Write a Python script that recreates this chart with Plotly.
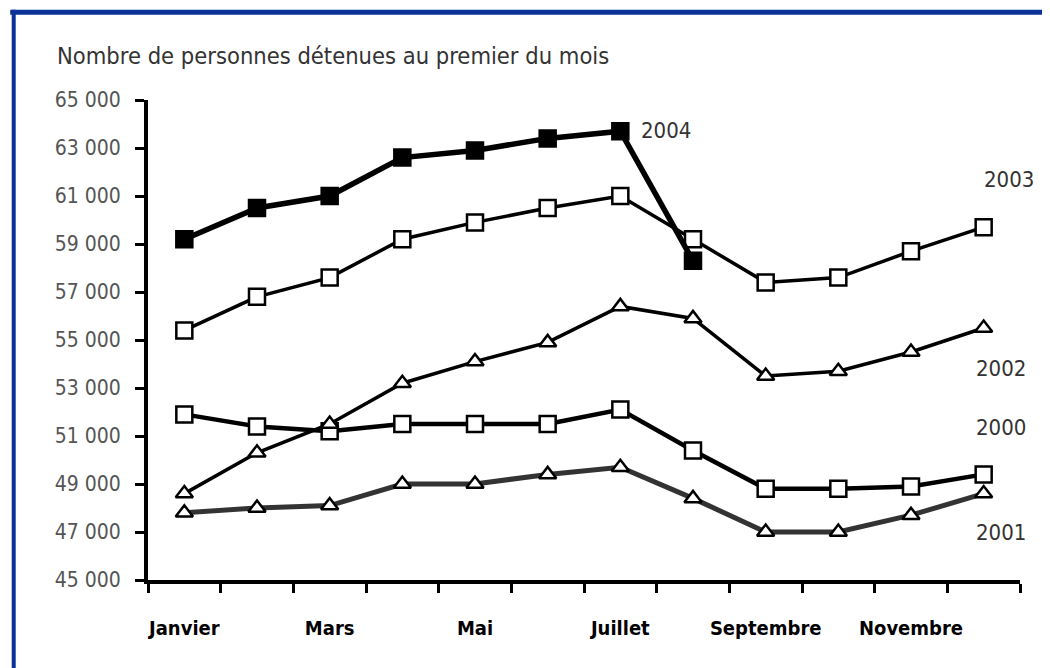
import plotly.graph_objects as go

months = ["Janvier", "Février", "Mars", "Avril", "Mai", "Juin", "Juillet",
          "Août", "Septembre", "Octobre", "Novembre", "Décembre"]
month_labels = ["Janvier", "", "Mars", "", "Mai", "", "Juillet", "",
                "Septembre", "", "Novembre", ""]

y2000 = [51900, 51400, 51200, 51500, 51500, 51500, 52100, 50400, 48800, 48800, 48900, 49400]
y2001 = [47800, 48000, 48100, 49000, 49000, 49400, 49700, 48400, 47000, 47000, 47700, 48600]
y2002 = [48600, 50300, 51500, 53200, 54100, 54900, 56400, 55900, 53500, 53700, 54500, 55500]
y2003 = [55400, 56800, 57600, 59200, 59900, 60500, 61000, 59200, 57400, 57600, 58700, 59700]
y2004 = [59200, 60500, 61000, 62600, 62900, 63400, 63700, 58300]

FONT = "Liberation Sans Narrow, DejaVu Sans Condensed, Roboto Condensed, Liberation Sans, sans-serif"

fig = go.Figure()

def add(name, yv, lw, lc, symbol, fill, msize):
    fig.add_trace(go.Scatter(
        x=months[:len(yv)], y=yv, name=name, mode="lines+markers",
        line=dict(color=lc, width=lw),
        marker=dict(symbol=symbol, size=msize, color=fill,
                    line=dict(color="black", width=2.5)),
        showlegend=False, cliponaxis=False))

add("2001", y2001, 5, "#333333", "triangle-up", "white", 15)
add("2000", y2000, 4.5, "black", "square", "white", 16)
add("2002", y2002, 3.5, "black", "triangle-up", "white", 15)
add("2003", y2003, 3.5, "black", "square", "white", 16)
add("2004", y2004, 5.5, "black", "square", "black", 16)

ann_font = dict(family=FONT, size=22, color="#333333")
labels = [("2004", "Juillet", 63700, 46, 1),
          ("2003", "Décembre", 59700, 25, 48),
          ("2002", "Décembre", 55500, 17, -40),
          ("2000", "Décembre", 49400, 17, 47),
          ("2001", "Décembre", 48600, 17, -39)]
for txt, xm, yv, dx, dy in labels:
    fig.add_annotation(x=xm, y=yv, text=txt, showarrow=False,
                       xshift=dx, yshift=dy, font=ann_font)

fig.add_annotation(xref="paper", yref="paper", x=-0.107, y=1.0,
                   xanchor="left", yanchor="bottom", yshift=28,
                   text="Nombre de personnes détenues au premier du mois",
                   showarrow=False, font=dict(family=FONT, size=23.5, color="#333333"))

# frame
fig.add_shape(type="line", xref="paper", yref="paper", x0=-0.158, x1=1.045,
              y0=1.183, y1=1.183, line=dict(color="#0a3399", width=5))
fig.add_shape(type="line", xref="paper", yref="paper", x0=-0.154, x1=-0.154,
              y0=1.188, y1=-0.19, line=dict(color="#0a3399", width=4))
fig.add_shape(type="line", xref="paper", yref="paper", x0=1.032, x1=1.032,
              y0=1.183, y1=-0.19, line=dict(color="#dde3ee", width=2))
fig.add_shape(type="line", xref="paper", yref="paper", x0=-0.154, x1=1.032,
              y0=-0.186, y1=-0.186, line=dict(color="#dde3ee", width=2))

fig.update_layout(
    width=1042, height=660,
    margin=dict(l=140, r=30, t=92, b=88),
    paper_bgcolor="white", plot_bgcolor="white",
    separators=", ",
    xaxis=dict(type="category", categoryarray=months, tickvals=months,
               ticktext=month_labels, tickson="boundaries", ticks="outside",
               ticklen=9, tickwidth=3, tickcolor="black", tickangle=0,
               ticklabelstandoff=27,
               showline=True, linecolor="black", linewidth=4,
               showgrid=False, zeroline=False, automargin=False,
               tickfont=dict(family=FONT, size=20, color="black", weight="bold"),
               range=[-0.5, 11.5]),
    yaxis=dict(range=[45000, 65000], tick0=45000, dtick=2000, tickformat=",d",
               ticks="outside", ticklen=9, tickwidth=3, tickcolor="black",
               ticklabelstandoff=10,
               showline=True, linecolor="black", linewidth=4,
               showgrid=False, zeroline=False, automargin=False,
               tickfont=dict(family=FONT, size=21, color="#555555")),
)

fig.write_html("out.html")
